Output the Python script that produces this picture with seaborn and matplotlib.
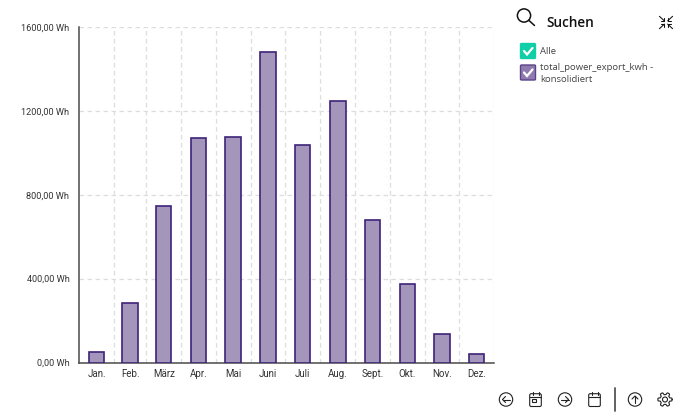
import matplotlib
matplotlib.use("Agg")
import matplotlib.pyplot as plt
from matplotlib.patches import Circle, FancyBboxPatch, Rectangle
from matplotlib.ticker import FuncFormatter, MultipleLocator
import numpy as np
import pandas as pd
import seaborn as sns

months = ["Jan.", "Feb.", "März", "Apr.", "Mai", "Juni", "Juli", "Aug.", "Sept.", "Okt.", "Nov.", "Dez."]
month_days = [31, 28, 31, 30, 31, 30, 31, 31, 30, 31, 30, 31]
export_wh = [50, 285, 745, 1072, 1075, 1480, 1037, 1247, 680, 375, 137, 42]

BAR_FILL = "#a495bb"
BAR_EDGE = "#3f2379"
GRID = "#dddddd"
TEAL = "#10cfa8"
W, H = 690, 420

sns.set_theme(style="white")
plt.rcParams["font.family"] = ["Roboto", "DejaVu Sans"]

fig = plt.figure(figsize=(W / 100, H / 100), dpi=100, facecolor="white")
ax = fig.add_axes([79 / W, 1 - 362.5 / H, 415.3 / W, 335.5 / H])

# The x axis is a day-of-year scale, so each month slot is as wide as its day count
month_edges = np.cumsum([0] + month_days)
month_mids = (month_edges[:-1] + month_edges[1:]) / 2

frame = pd.DataFrame({"day": month_mids, "wh": export_wh})
sns.barplot(data=frame, x="day", y="wh", native_scale=True, color=BAR_FILL, saturation=1, width=0.46,
            edgecolor=BAR_EDGE, linewidth=1.2, ax=ax, zorder=3)

ax.set_xlim(0, 365)
ax.set_ylim(0, 1600)
ax.set_xlabel("")
ax.set_ylabel("")
ax.set_xticks(month_mids, months)
ax.yaxis.set_major_locator(MultipleLocator(400))
ax.yaxis.set_major_formatter(FuncFormatter(lambda v, _: f"{v:.2f}".replace(".", ",") + " Wh"))
ax.tick_params(axis="x", length=0, labelsize=7, labelcolor="#333333", pad=5)
ax.tick_params(axis="y", length=0, labelsize=6.6, labelcolor="#333333", pad=7)

# Dashed grid sits on the month boundaries
dash = (0, (3.6, 2.8))
ax.set_xticks(month_edges[1:], minor=True)
ax.tick_params(axis="x", which="minor", length=0)
ax.grid(True, which="minor", axis="x", color=GRID, linestyle=dash, linewidth=0.9, zorder=0)
ax.grid(True, which="major", axis="y", color=GRID, linestyle=dash, linewidth=0.9, zorder=0)
ax.set_axisbelow(True)

ax.spines["top"].set_visible(False)
ax.spines["right"].set_visible(False)
for side in ("left", "bottom"):
    ax.spines[side].set_color("#4a4a4a")
    ax.spines[side].set_linewidth(1.1)

# Sidebar and toolbar live on an overlay measured in pixels
ui = fig.add_axes([0, 0, 1, 1], facecolor="none")
ui.set_xlim(0, W)
ui.set_ylim(H, 0)
ui.axis("off")

ink = "#222222"
UI_FONT = "Open Sans"

# Search field
ui.add_patch(Circle((524, 15.5), 6.6, fill=False, ec="#111111", lw=1.1))
ui.plot([528.8, 534.5], [20.3, 25.5], color="#111111", lw=1.1)
ui.text(546, 23, "Suchen", fontsize=9.8, family=UI_FONT, weight="semibold", color="#111111", va="center")

# Collapse glyph: four small arrows pointing at the centre
for sx, sy in [(-1, -1), (1, -1), (-1, 1), (1, 1)]:
    ix, iy = 666 + sx * 1.6, 22.5 + sy * 1.6
    ui.plot([ix, ix + sx * 5], [iy, iy + sy * 4.6], color="#111111", lw=0.75)
    ui.plot([ix, ix + sx * 3.2], [iy, iy], color="#111111", lw=0.75)
    ui.plot([ix, ix], [iy, iy + sy * 3.2], color="#111111", lw=0.75)


def checkbox(x, y, fill, edge):
    ui.add_patch(FancyBboxPatch((x + 1, y + 1), 13, 13, boxstyle="round,pad=1,rounding_size=1",
                                fc=fill, ec=edge, lw=1))
    ui.plot([x + 3.5, x + 6.5, x + 12], [y + 7.5, y + 11, y + 4.5], color="white", lw=1.6,
            solid_joinstyle="miter")


checkbox(520.5, 43.5, TEAL, TEAL)
checkbox(520.5, 65, "#8f7bb0", "#5b4488")
ui.text(540, 51.5, "Alle", fontsize=6.8, family=UI_FONT, color="#444444", va="center")
ui.text(540, 67.5, "total_power_export_kwh -", fontsize=6.8, family=UI_FONT, color="#444444", va="center")
ui.text(540, 79, "konsolidiert", fontsize=6.8, family=UI_FONT, color="#444444", va="center")


def round_button(cx, cy, glyph):
    ui.add_patch(Circle((cx, cy), 6.7, fill=False, ec=ink, lw=0.8))
    if glyph == "left":
        ui.plot([cx + 3.7, cx - 3.5], [cy, cy], color=ink, lw=0.8)
        ui.plot([cx - 0.5, cx - 3.5, cx - 0.5], [cy - 3, cy, cy + 3], color=ink, lw=0.8)
    elif glyph == "right":
        ui.plot([cx - 3.7, cx + 3.5], [cy, cy], color=ink, lw=0.8)
        ui.plot([cx + 0.5, cx + 3.5, cx + 0.5], [cy - 3, cy, cy + 3], color=ink, lw=0.8)
    else:
        ui.plot([cx, cx], [cy + 3.7, cy - 3.5], color=ink, lw=0.8)
        ui.plot([cx - 3, cx, cx + 3], [cy - 0.5, cy - 3.5, cy - 0.5], color=ink, lw=0.8)


def calendar(cx, cy, with_day):
    ui.add_patch(FancyBboxPatch((cx - 5.2, cy - 5.2), 10.4, 11.6, boxstyle="round,pad=0.6,rounding_size=1.5",
                                fill=False, ec=ink, lw=0.8))
    ui.plot([cx - 5.8, cx + 5.8], [cy - 2.4, cy - 2.4], color=ink, lw=0.8)
    for dx in (-3, 3):
        ui.plot([cx + dx, cx + dx], [cy - 7.5, cy - 5], color=ink, lw=0.8)
    if with_day:
        ui.add_patch(Rectangle((cx - 3.6, cy - 0.2), 3.6, 3, fill=False, ec=ink, lw=0.8))


round_button(506, 399.5, "left")
calendar(535.5, 399.5, True)
round_button(565, 399.5, "right")
calendar(594.5, 399.5, False)
ui.plot([615, 615], [388, 411], color="#555555", lw=1.3)
round_button(635, 399.5, "up")

# Settings cog
cog = np.linspace(0, 2 * np.pi, 97)
radius = 6 + 1.1 * np.clip(2.2 * np.cos(6 * cog), -1, 1)
ui.plot(665 + radius * np.cos(cog), 399.5 + radius * np.sin(cog), color=ink, lw=0.8)
ui.add_patch(Circle((665, 399.5), 2.5, fill=False, ec=ink, lw=0.8))

fig.savefig("out.png", dpi=100)
